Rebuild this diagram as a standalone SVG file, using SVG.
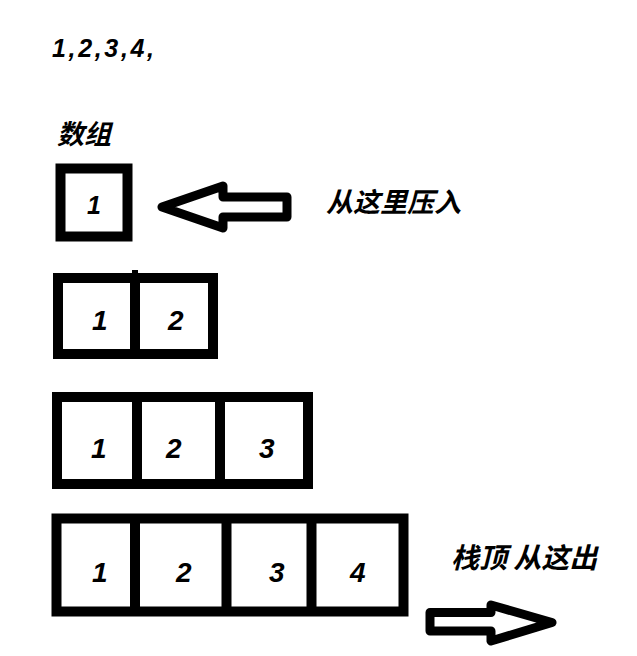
<svg xmlns="http://www.w3.org/2000/svg" width="637" height="656" viewBox="0 0 637 656">
<style>
.box{fill:#fff;stroke:#000;stroke-width:10}
.div{stroke:#000;stroke-width:10}
.num{font-family:"Liberation Sans",Arial,sans-serif;font-weight:bold;font-style:italic;fill:#000}
.cjk{font-family:"Noto Sans CJK SC","Noto Sans",sans-serif;font-weight:bold;font-style:italic;fill:#000}
.arrow{fill:#fff;stroke:#000;stroke-width:9;stroke-linejoin:round}
</style>
<rect width="637" height="656" fill="#fff"/>
<text class="num" x="52" y="57" font-size="25" textLength="102" lengthAdjust="spacing">1,2,3,4,</text>
<text class="cjk" x="57" y="144" font-size="27">数组</text>
<g id="stack1">
<rect class="box" x="60.5" y="168.5" width="67" height="68" stroke-width="11"/>
<text class="num" x="87" y="214" font-size="25">1</text>
</g>
<g id="stack2">
<rect class="box" x="58" y="278" width="155" height="76"/>
<line class="div" x1="135" y1="278" x2="135" y2="354"/>
<rect x="132" y="270" width="6" height="4" fill="#000"/>
<text class="num" x="92" y="330" font-size="28">1</text>
<text class="num" x="168" y="330" font-size="28">2</text>
</g>
<g id="stack3">
<rect class="box" x="57" y="397" width="251" height="87"/>
<line class="div" x1="137" y1="397" x2="137" y2="484"/>
<line class="div" x1="220" y1="397" x2="220" y2="484"/>
<text class="num" x="91" y="458" font-size="28">1</text>
<text class="num" x="166" y="458" font-size="28">2</text>
<text class="num" x="259" y="458" font-size="28">3</text>
</g>
<g id="stack4">
<rect class="box" x="56.5" y="518.5" width="347" height="93" stroke-width="11"/>
<line class="div" x1="135" y1="518" x2="135" y2="612"/>
<line class="div" x1="226.5" y1="518" x2="226.5" y2="612"/>
<line class="div" x1="311.5" y1="518" x2="311.5" y2="612"/>
<text class="num" x="92" y="582" font-size="28">1</text>
<text class="num" x="176" y="582" font-size="28">2</text>
<text class="num" x="269" y="582" font-size="28">3</text>
<text class="num" x="350" y="582" font-size="28">4</text>
</g>
<g id="connectors">
<polygon class="arrow" points="162,207 223,186 223,197 287,197 287,217 223,217 223,228"/>
<polygon class="arrow" stroke-width="8" points="430,612.5 491,612.5 491,605 552,622.5 491,641 491,631 430,631"/>
</g>
<g id="label-push">
<text class="cjk" x="326" y="212" font-size="27">从这里压入</text>
</g>
<g id="label-top">
<text class="cjk" x="451" y="568" font-size="28">栈顶 从这出</text>
</g>
</svg>
